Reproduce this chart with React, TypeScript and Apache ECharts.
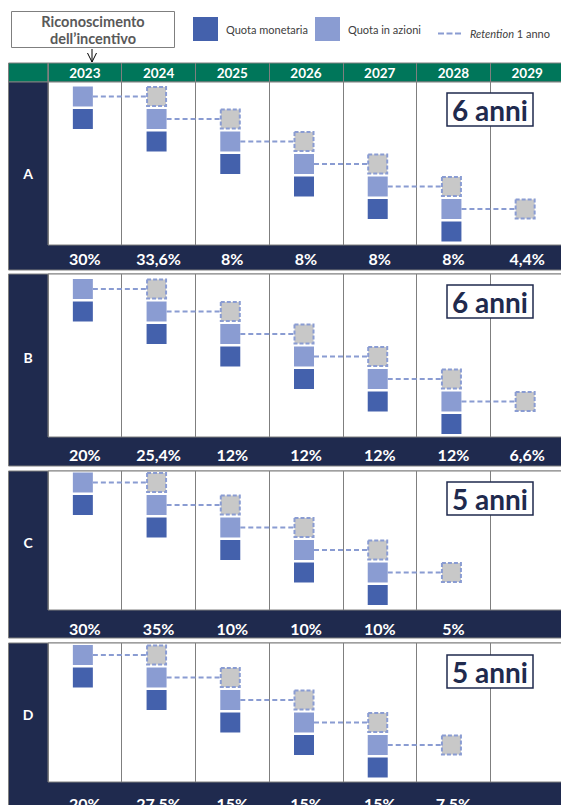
import React, { useEffect, useRef } from 'react';
import * as echarts from 'echarts';

// ---------- data ----------
const years = ['2023', '2024', '2025', '2026', '2027', '2028', '2029'];
const panelNames = ['A', 'B', 'C', 'D'];

// row index (0 = top) of each square per year
const cashRowA = [1, 2, 3, 4, 5, 6, null];
const sharesRowA = [0, 1, 2, 3, 4, 5, null];
const retentionRowA = [null, 0, 1, 2, 3, 4, 5];
const pctA = ['30%', '33,6%', '8%', '8%', '8%', '8%', '4,4%'];
const durationA = '6 anni';

const cashRowB = [1, 2, 3, 4, 5, 6, null];
const sharesRowB = [0, 1, 2, 3, 4, 5, null];
const retentionRowB = [null, 0, 1, 2, 3, 4, 5];
const pctB = ['20%', '25,4%', '12%', '12%', '12%', '12%', '6,6%'];
const durationB = '6 anni';

const cashRowC = [1, 2, 3, 4, 5, null, null];
const sharesRowC = [0, 1, 2, 3, 4, null, null];
const retentionRowC = [null, 0, 1, 2, 3, 4, null];
const pctC = ['30%', '35%', '10%', '10%', '10%', '5%', ''];
const durationC = '5 anni';

const cashRowD = [1, 2, 3, 4, 5, null, null];
const sharesRowD = [0, 1, 2, 3, 4, null, null];
const retentionRowD = [null, 0, 1, 2, 3, 4, null];
const pctD = ['20%', '27,5%', '15%', '15%', '15%', '7,5%', ''];
const durationD = '5 anni';

const legendCash = 'Quota monetaria';
const legendShares = 'Quota in azioni';
const legendRetention = 'Retention 1 anno';
const boxLine1 = 'Riconoscimento';
const boxLine2 = 'dell\u2019incentivo';

// ---------- style / layout ----------
const FONT = 'Lato, "Noto Sans", sans-serif';
const GREEN = '#00765A';
const NAVY = '#1F2A4E';
const DARK = '#4461AC';
const LIGHT = '#8A9CD2';
const GREY = '#C8C8C8';
const RULE = '#7F7F7F';

const COL_LEFT = 48;
const COL_WIDTH = 516;
const ROW_STEP = 22.5;
const SQ_OFFSET = -2;

const layout = [
  { bodyTop: 82, bodyH: 163, pctH: 25, rowOff: 14.5, pctMargin: 5.5, letterY: 173, boxTop: 93 },
  { bodyTop: 274, bodyH: 163, pctH: 29, rowOff: 15, pctMargin: 9.5, letterY: 357, boxTop: 285 },
  { bodyTop: 471, bodyH: 139, pctH: 28, rowOff: 11.5, pctMargin: 10, letterY: 542, boxTop: 482 },
  { bodyTop: 643, bodyH: 139, pctH: 28, rowOff: 12, pctMargin: 13, letterY: 714, boxTop: 655 },
];

const panelData = [
  { cash: cashRowA, shares: sharesRowA, retention: retentionRowA, pct: pctA, duration: durationA },
  { cash: cashRowB, shares: sharesRowB, retention: retentionRowB, pct: pctB, duration: durationB },
  { cash: cashRowC, shares: sharesRowC, retention: retentionRowC, pct: pctC, duration: durationC },
  { cash: cashRowD, shares: sharesRowD, retention: retentionRowD, pct: pctD, duration: durationD },
];

const toPoints = (rows: (number | null)[]) =>
  rows.map((r, k) => (r == null ? null : [k, r])).filter((p) => p != null);

const toLinks = (shares: (number | null)[], retention: (number | null)[]) => {
  const out: any[] = [];
  shares.forEach((r, k) => {
    const next = retention[k + 1];
    if (r != null && next != null) {
      if (out.length) out.push([k, '-']);
      out.push([k, r], [k + 1, next]);
    }
  });
  return out;
};

function buildOption() {
  const grid: any[] = [];
  const xAxis: any[] = [];
  const yAxis: any[] = [];
  const series: any[] = [];
  const graphic: any[] = [];

  // header
  grid.push({
    left: COL_LEFT, top: 63, width: COL_WIDTH, height: 19,
    show: true, backgroundColor: GREEN, borderColor: RULE, borderWidth: 1,
    outerBoundsMode: 'none', containLabel: false,
  });
  xAxis.push({
    gridIndex: 0, type: 'category', data: years, position: 'top',
    axisLine: { show: false }, axisTick: { show: false },
    axisLabel: { inside: true, margin: 3, interval: 0, color: '#fff', fontWeight: 'bold', fontSize: 13.5, fontFamily: FONT },
    splitLine: { show: true, interval: 0, lineStyle: { color: RULE, width: 1 } },
  });
  yAxis.push({ gridIndex: 0, type: 'value', show: false });
  graphic.push({
    type: 'rect', z: -10,
    shape: { x: 8.5, y: 63, width: COL_LEFT - 8.5, height: 19 },
    style: { fill: GREEN, stroke: RULE, lineWidth: 1 },
  });

  layout.forEach((L, i) => {
    const d = panelData[i];
    const bodyIdx = grid.length;
    const yMin = -L.rowOff / ROW_STEP;
    const yMax = yMin + L.bodyH / ROW_STEP;

    // frame (label column + pct row background)
    graphic.push({
      type: 'rect', z: -10,
      shape: { x: 8.5, y: L.bodyTop, width: 600, height: L.bodyH + L.pctH },
      style: { fill: NAVY, stroke: RULE, lineWidth: 1 },
    });
    graphic.push({
      type: 'text', z: 10, x: 28, y: L.letterY,
      style: { text: panelNames[i], fill: '#fff', fontFamily: FONT, fontWeight: 'bold', fontSize: 14, align: 'center', verticalAlign: 'middle' },
    });
    graphic.push({
      type: 'rect', z: 10,
      shape: { x: 447, y: L.boxTop, width: 86, height: 33 },
      style: { fill: '#fff', stroke: NAVY, lineWidth: 1.5 },
    });
    graphic.push({
      type: 'text', z: 11, x: 490, y: L.boxTop + 16.5,
      style: { text: d.duration, fill: NAVY, fontFamily: FONT, fontWeight: 'bold', fontSize: 28, align: 'center', verticalAlign: 'middle' },
    });

    // body grid
    grid.push({
      left: COL_LEFT, top: L.bodyTop, width: COL_WIDTH, height: L.bodyH,
      show: true, backgroundColor: '#fff', borderColor: RULE, borderWidth: 1,
      outerBoundsMode: 'none', containLabel: false,
    });
    xAxis.push({
      gridIndex: bodyIdx, type: 'category', data: years,
      axisLine: { show: false }, axisTick: { show: false },
      axisLabel: { show: false, interval: 0 },
      splitLine: { show: true, interval: 0, lineStyle: { color: RULE, width: 1 } },
    });
    yAxis.push({ gridIndex: bodyIdx, type: 'value', inverse: true, min: yMin, max: yMax, show: false });

    // pct grid
    const pctIdx = grid.length;
    grid.push({
      left: COL_LEFT, top: L.bodyTop + L.bodyH, width: COL_WIDTH, height: L.pctH,
      show: false, outerBoundsMode: 'none', containLabel: false,
    });
    xAxis.push({
      gridIndex: pctIdx, type: 'category', data: years, position: 'top',
      axisLine: { show: false }, axisTick: { show: false },
      axisLabel: {
        inside: true, margin: L.pctMargin, interval: 0, color: '#fff', fontWeight: 'bold', fontSize: 16, fontFamily: FONT,
        formatter: (_v: string, idx: number) => d.pct[idx],
      },
      splitLine: { show: false },
    });
    yAxis.push({ gridIndex: pctIdx, type: 'value', show: false });

    // series
    series.push({
      type: 'line', name: legendRetention, xAxisIndex: bodyIdx, yAxisIndex: bodyIdx,
      data: toLinks(d.shares, d.retention), symbol: 'none', silent: true, z: 1,
      connectNulls: false,
      lineStyle: { color: LIGHT, width: 2, type: [5, 3] },
      itemStyle: { color: LIGHT },
    });
    series.push({
      type: 'scatter', name: 'Retention', xAxisIndex: bodyIdx, yAxisIndex: bodyIdx,
      data: toPoints(d.retention), symbol: 'rect', symbolSize: 19, symbolOffset: [SQ_OFFSET, 0], silent: true, z: 3,
      itemStyle: { color: GREY, borderColor: LIGHT, borderWidth: 2, borderType: [4, 2], opacity: 1 },
    });
    series.push({
      type: 'scatter', name: legendShares, xAxisIndex: bodyIdx, yAxisIndex: bodyIdx,
      data: toPoints(d.shares), symbol: 'rect', symbolSize: 20, symbolOffset: [SQ_OFFSET, 0], silent: true, z: 3,
      itemStyle: { color: LIGHT, opacity: 1 },
    });
    series.push({
      type: 'scatter', name: legendCash, xAxisIndex: bodyIdx, yAxisIndex: bodyIdx,
      data: toPoints(d.cash), symbol: 'rect', symbolSize: 20, symbolOffset: [SQ_OFFSET, 0], silent: true, z: 3,
      itemStyle: { color: DARK, opacity: 1 },
    });
  });

  // "Riconoscimento dell'incentivo" box and arrow
  graphic.push({
    type: 'rect', z: 5,
    shape: { x: 11.5, y: 11.5, width: 163, height: 36 },
    style: { fill: '#fff', stroke: RULE, lineWidth: 1 },
  });
  graphic.push({
    type: 'text', z: 6, x: 93, y: 21.5,
    style: { text: boxLine1, fill: '#595959', fontFamily: FONT, fontWeight: 'bold', fontSize: 14.5, lineHeight: 15, align: 'center', verticalAlign: 'middle' },
  });
  graphic.push({
    type: 'text', z: 6, x: 93, y: 38,
    style: { text: boxLine2, fill: '#595959', fontFamily: FONT, fontWeight: 'bold', fontSize: 14.5, lineHeight: 15, align: 'center', verticalAlign: 'middle' },
  });
  graphic.push({
    type: 'polyline', z: 6,
    shape: { points: [[92, 49], [92, 62]] },
    style: { stroke: '#000', lineWidth: 1, fill: 'none' },
  });
  graphic.push({
    type: 'polyline', z: 6,
    shape: { points: [[87.5, 53], [92, 62], [96.5, 53]] },
    style: { stroke: '#000', lineWidth: 1, fill: 'none' },
  });

  const legendText = { color: '#404040', fontSize: 11, fontFamily: FONT };
  const legend = [
    {
      data: [legendCash], left: 193, top: 17, itemWidth: 25, itemHeight: 24, icon: 'rect', padding: 0,
      selectedMode: false, textStyle: { ...legendText, padding: [0, 0, 0, 3] },
    },
    {
      data: [legendShares], left: 315, top: 17, itemWidth: 25, itemHeight: 24, icon: 'rect', padding: 0,
      selectedMode: false, textStyle: { ...legendText, padding: [0, 0, 0, 3] },
    },
    {
      data: [legendRetention], left: 438, top: 28, itemWidth: 23, itemHeight: 2.5, padding: 0,
      icon: 'path://M0 0H6V2H0Z M8.5 0H14.5V2H8.5Z M17 0H23V2H17Z',
      selectedMode: false,
      formatter: () => '{i|Retention} 1 anno',
      textStyle: {
        ...legendText, padding: [0, 0, 0, 4],
        rich: { i: { fontStyle: 'italic', color: '#404040', fontSize: 11, fontFamily: FONT } },
      },
    },
  ];

  return {
    animation: false,
    backgroundColor: '#fff',
    textStyle: { fontFamily: FONT },
    legend,
    grid,
    xAxis,
    yAxis,
    series,
    graphic: { elements: graphic },
  };
}

export default function App() {
  const ref = useRef<HTMLDivElement>(null);
  useEffect(() => {
    if (!ref.current) return;
    const chart = echarts.init(ref.current, null, { renderer: 'svg' });
    chart.setOption(buildOption() as any);
    return () => chart.dispose();
  }, []);
  return (
    <div
      ref={ref}
      style={{ position: 'absolute', left: 0, top: 0, width: 561, height: 805 }}
    />
  );
}
